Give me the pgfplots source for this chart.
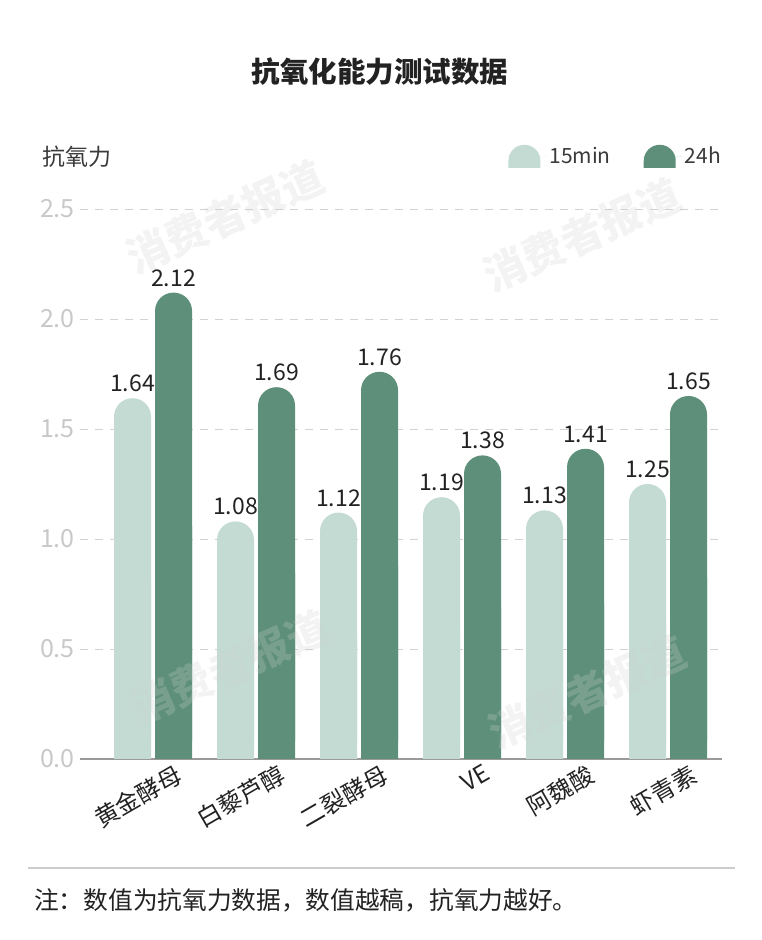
\documentclass[border=0pt]{standalone}
\usepackage{fontspec}
\setmainfont{Noto Sans CJK SC}
\usepackage{pgfplots}
\usepackage{pgfplotstable}
\pgfplotsset{compat=1.18}
\definecolor{lightbar}{HTML}{C3DBD3}
\definecolor{darkbar}{HTML}{5D8F7A}
\definecolor{tickgray}{HTML}{C8C8C8}
\definecolor{gridgray}{HTML}{D2D2D2}
\definecolor{axisgray}{HTML}{9A9A9A}
\definecolor{txt}{HTML}{222222}
\definecolor{subtxt}{HTML}{3A3A3A}
\definecolor{sepgray}{HTML}{CCCCCC}
\definecolor{wm}{HTML}{D0D0D0}

\pgfplotstableread{
x a b
0 1.64 2.12
1 1.08 1.69
2 1.12 1.76
3 1.19 1.38
4 1.13 1.41
5 1.25 1.65
}\datatable

\newcommand\fs[1]{\fontsize{#1}{#1}\selectfont}

\begin{document}
\begin{tikzpicture}[x=1pt,y=1pt]
\useasboundingbox (0,0) rectangle (762,940);
\begin{axis}[
  at={(80pt,181pt)}, anchor=south west,
  scale only axis, width=642pt, height=550pt,
  xmin=-0.709, xmax=5.524, ymin=0, ymax=2.5,
  axis lines*=left,
  y axis line style={draw=none},
  x axis line style={draw=axisgray, line width=1.2pt},
  major tick length=0pt,
  ytick={0,0.5,1,1.5,2,2.5},
  xtick={0,1,2,3,4,5},
  xticklabels={黄金酵母,白藜芦醇,二裂酵母,VE,阿魏酸,虾青素},
  ymajorgrids,
  grid style={gridgray, dash pattern=on 8pt off 7pt, line width=0.8pt},
  /pgf/number format/assume math mode=true,
  yticklabel style={font=\fs{25}, text=tickgray, inner sep=0pt, xshift=-5pt, /pgf/number format/.cd, fixed, fixed zerofill, precision=1},
  xticklabel style={font=\fs{24}, text=txt, inner sep=0pt, xshift=21pt, yshift=-4pt, rotate=30, anchor=north east},
  clip=false,
  legend columns=2,
  legend image code/.code={\fill[#1, sharp corners] (0pt,-11.5pt) -- (0pt,-4.5pt) arc[start angle=180,end angle=0,radius=16pt] -- (32pt,-11.5pt) -- cycle; \path (0pt,0pt) -- (39pt,0pt);},
  legend style={draw=none, fill=none, at={(1,1)}, anchor=south east, xshift=1pt, yshift=41pt, inner sep=0pt, font=\fs{21}, text=subtxt, /tikz/every even column/.append style={column sep=31pt}},
]
\addplot[ybar, bar width=37pt, bar shift=-20.5pt, fill=lightbar, draw=none, rounded corners=18.4pt,
  nodes near coords,
  nodes near coords style={font=\fs{23}, text=txt, inner sep=0pt, anchor=south, xshift=-20.5pt, yshift=6pt, /pgf/number format/.cd, fixed, fixed zerofill, precision=2}]
  table[x=x,y=a]{\datatable};
\addplot[ybar, bar width=37pt, bar shift=20.5pt, fill=darkbar, draw=none, rounded corners=18.4pt,
  nodes near coords,
  nodes near coords style={font=\fs{23}, text=txt, inner sep=0pt, anchor=south, xshift=20.5pt, yshift=6pt, /pgf/number format/.cd, fixed, fixed zerofill, precision=2}]
  table[x=x,y=b]{\datatable};
\addplot[ybar, bar width=37pt, bar shift=-20.5pt, fill=lightbar, draw=none, forget plot]
  table[x=x, y expr=\thisrow{a}/2]{\datatable};
\addplot[ybar, bar width=37pt, bar shift=20.5pt, fill=darkbar, draw=none, forget plot]
  table[x=x, y expr=\thisrow{b}/2]{\datatable};
\legend{15min,24h}
\end{axis}
\node[font=\bfseries\fs{28.5}, text=txt] at (380,868) {抗氧化能力测试数据};
\node[font=\fs{23}, text=subtxt, anchor=west, inner sep=0pt] at (42,783) {抗氧力};
\draw[sepgray, line width=1.5pt] (28,72) -- (735,72);
\node[font=\fs{24.7}, text=txt, anchor=west, inner sep=0pt] at (34,40) {注：数值为抗氧力数据，数值越稿，抗氧力越好。};
\begin{scope}[opacity=0.25]
\node[font=\bfseries\fs{42}, text=wm, rotate=24] at (225,723) {消费者报道};
\node[font=\bfseries\fs{42}, text=wm, rotate=24] at (582,705) {消费者报道};
\node[font=\bfseries\fs{42}, text=wm, rotate=24] at (230,273) {消费者报道};
\node[font=\bfseries\fs{42}, text=wm, rotate=24] at (587,248) {消费者报道};
\end{scope}
\end{tikzpicture}
\end{document}
